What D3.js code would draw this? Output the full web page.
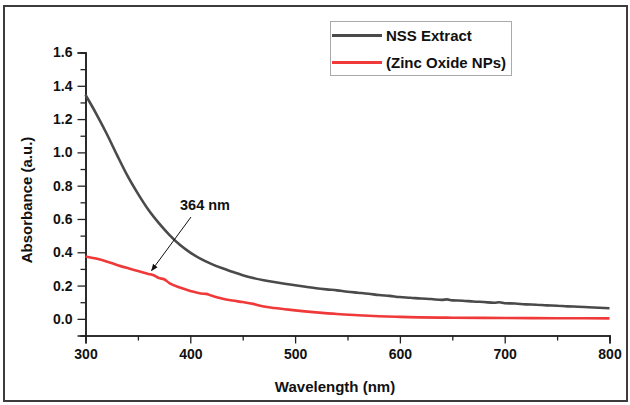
<!DOCTYPE html>
<html lang="en">
<head>
<meta charset="UTF-8">
<title>Absorbance spectra</title>
<script src="https://cdnjs.cloudflare.com/ajax/libs/d3/7.8.5/d3.min.js"></script>
<style>
    body { margin: 0; background: #fff; }
    text { font-family: "Liberation Sans", Arial, sans-serif; font-weight: bold; fill: #111; }
</style>
</head>
<body>
<svg width="630" height="405"></svg>
<script>
    // wavelength (nm) and absorbance
    var nssWave = [300, 310, 320, 330, 340, 350, 360, 370, 380, 390, 400, 410, 420, 430, 440, 450,
        460, 470, 480, 490, 500, 510, 520, 530, 540, 550, 560, 570, 580, 590, 600, 610, 620, 630,
        640, 645, 650, 660, 670, 680, 690, 695, 700, 710, 720, 730, 740, 750, 760, 770, 780, 790, 800];
    var nssAbs = [1.345, 1.235, 1.115, 0.985, 0.86, 0.752, 0.655, 0.575, 0.505, 0.445, 0.398, 0.36,
        0.33, 0.305, 0.283, 0.262, 0.245, 0.232, 0.221, 0.211, 0.202, 0.193, 0.184, 0.177, 0.171,
        0.163, 0.157, 0.151, 0.143, 0.138, 0.131, 0.127, 0.122, 0.119, 0.114, 0.117, 0.111, 0.109,
        0.104, 0.101, 0.097, 0.100, 0.094, 0.092, 0.087, 0.085, 0.081, 0.079, 0.075, 0.073, 0.070,
        0.067, 0.064];

    var znoWave = [300, 310, 320, 330, 340, 350, 360, 365, 370, 375, 380, 390, 400, 410, 415, 420,
        430, 440, 450, 460, 470, 480, 490, 500, 520, 540, 560, 580, 600, 650, 700, 750, 800];
    var znoAbs = [0.375, 0.362, 0.345, 0.324, 0.305, 0.288, 0.27, 0.262, 0.245, 0.238, 0.215,
        0.188, 0.168, 0.152, 0.15, 0.14, 0.122, 0.11, 0.101, 0.09, 0.074, 0.065, 0.058, 0.051,
        0.039, 0.029, 0.022, 0.016, 0.012, 0.007, 0.005, 0.004, 0.003];

    var seriesNames = ["NSS Extract", "(Zinc Oxide NPs)"];
    var seriesColors = ["#4a4a4a", "#f03a3a"];
    var xTicks = [300, 400, 500, 600, 700, 800];
    var yTicks = [0.0, 0.2, 0.4, 0.6, 0.8, 1.0, 1.2, 1.4, 1.6];
    var peakLabel = "364 nm";

    var svg = d3.select("svg");

    // outer frame
    svg.append("rect")
        .attr("x", 4).attr("y", 6)
        .attr("width", 623).attr("height", 395)
        .attr("fill", "none")
        .attr("stroke", "#3c3c3c")
        .attr("stroke-width", 2);

    var x = d3.scaleLinear().domain([300, 800]).range([85.5, 609.5]);
    var y = d3.scaleLinear().domain([-0.1, 1.6]).range([335.5, 52.5]);

    // minor ticks first, then majors on top
    var xMinor = d3.axisBottom(x).tickValues(d3.range(350, 800, 100)).tickSize(5).tickFormat("");
    var yMinor = d3.axisLeft(y).tickValues(d3.range(-0.1, 1.6, 0.2)).tickSize(5).tickFormat("");

    svg.append("g").attr("transform", "translate(0," + y(-0.1) + ")").call(xMinor);
    svg.append("g").attr("transform", "translate(" + x(300) + ",0)").call(yMinor);

    svg.append("g")
        .attr("transform", "translate(0," + y(-0.1) + ")")
        .call(d3.axisBottom(x).tickValues(xTicks).tickSize(8).tickPadding(6).tickFormat(d3.format("d")));
    svg.append("g")
        .attr("transform", "translate(" + x(300) + ",0)")
        .call(d3.axisLeft(y).tickValues(yTicks).tickSize(8).tickPadding(5).tickFormat(d3.format(".1f")));

    svg.selectAll(".domain").attr("stroke", "#222").attr("stroke-width", 1.6);
    svg.selectAll(".tick line").attr("stroke", "#222").attr("stroke-width", 1.3);
    svg.selectAll(".tick text").style("font-size", "14px").attr("fill", "#111");

    // curves
    var line = d3.line()
        .curve(d3.curveMonotoneX)
        .x(function (d) { return x(d[0]); })
        .y(function (d) { return y(d[1]); });

    var nssData = d3.zip(nssWave, nssAbs);
    var znoData = d3.zip(znoWave, znoAbs);

    svg.append("path").datum(znoData)
        .attr("d", line).attr("fill", "none")
        .attr("stroke", seriesColors[1]).attr("stroke-width", 2.6);
    svg.append("path").datum(nssData)
        .attr("d", line).attr("fill", "none")
        .attr("stroke", seriesColors[0]).attr("stroke-width", 2.6);

    // axis titles
    svg.append("text")
        .attr("x", 335).attr("y", 392)
        .attr("text-anchor", "middle")
        .style("font-size", "15px")
        .text("Wavelength (nm)");
    svg.append("text")
        .attr("transform", "translate(32,200) rotate(-90)")
        .attr("text-anchor", "middle")
        .style("font-size", "15px")
        .text("Absorbance (a.u.)");

    // legend
    var legend = svg.append("g");
    legend.append("rect")
        .attr("x", 330.5).attr("y", 21.5)
        .attr("width", 181).attr("height", 54)
        .attr("fill", "#fff")
        .attr("stroke", "#aaa")
        .attr("stroke-width", 1);
    seriesNames.forEach(function (name, i) {
        var ly = 35.5 + i * 27;
        legend.append("line")
            .attr("x1", 332).attr("x2", 382)
            .attr("y1", ly).attr("y2", ly)
            .attr("stroke", seriesColors[i]).attr("stroke-width", 2.8);
        legend.append("text")
            .attr("x", 386).attr("y", ly + 5.5)
            .style("font-size", "15px")
            .text(name);
    });

    // peak annotation
    svg.append("defs").append("marker")
        .attr("id", "arrow")
        .attr("viewBox", "0 0 10 10")
        .attr("refX", 9).attr("refY", 5)
        .attr("markerWidth", 7).attr("markerHeight", 7)
        .attr("orient", "auto")
        .append("path")
        .attr("d", "M0,1 L10,5 L0,9 Z")
        .attr("fill", "#111");

    svg.append("text")
        .attr("x", 205).attr("y", 210)
        .attr("text-anchor", "middle")
        .style("font-size", "14.5px")
        .text(peakLabel);
    svg.append("line")
        .attr("x1", 191).attr("y1", 217)
        .attr("x2", x(364) - 1).attr("y2", y(0.29))
        .attr("stroke", "#111").attr("stroke-width", 1)
        .attr("marker-end", "url(#arrow)");
</script>
</body>
</html>
